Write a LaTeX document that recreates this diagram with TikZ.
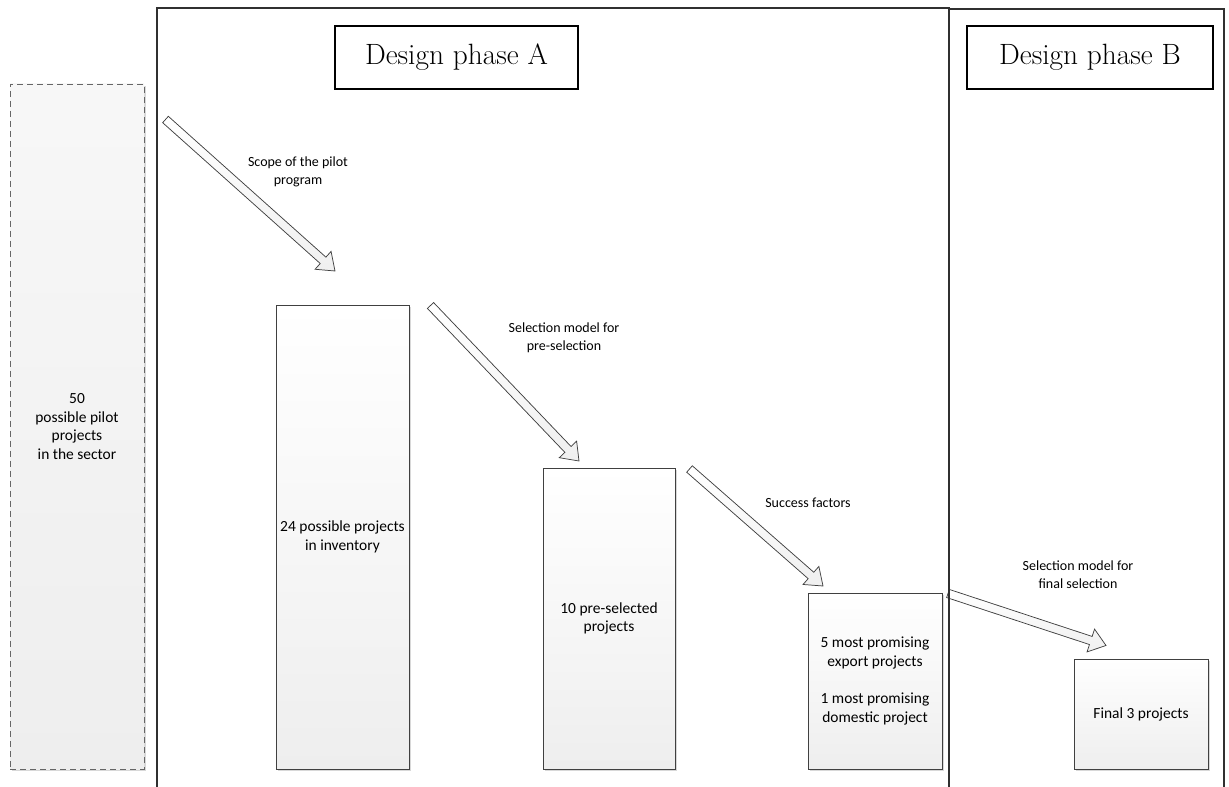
\documentclass[tikz,border=0pt]{standalone}
\usepackage{fontspec}
\newfontfamily\labfont{Carlito}
\usetikzlibrary{calc,shadows}
\newcommand{\blockarr}[2]{%
  \coordinate (#1h) at ($(#2)!12pt!(#1)$);
  \path[arrshadow] ($(#1)!3.2pt!90:(#2)$) -- ($(#1h)!3.2pt!-90:(#1)$) -- ($(#1h)!9pt!-90:(#1)$) -- (#2)
    -- ($(#1h)!9pt!90:(#1)$) -- ($(#1h)!3.2pt!90:(#1)$) -- ($(#1)!3.2pt!-90:(#2)$) -- cycle;
  \path[blockarrow] ($(#1)!3.2pt!90:(#2)$) -- ($(#1h)!3.2pt!-90:(#1)$) -- ($(#1h)!9pt!-90:(#1)$) -- (#2)
    -- ($(#1h)!9pt!90:(#1)$) -- ($(#1h)!3.2pt!90:(#1)$) -- ($(#1)!3.2pt!-90:(#2)$) -- cycle;
}
\definecolor{edge}{HTML}{404040}
\definecolor{framec}{HTML}{303030}
\definecolor{boxbot}{HTML}{EEEEEE}
\begin{document}
\begin{tikzpicture}[x=0.75pt,y=-0.75pt,
  frame/.style={draw=framec,line width=1.5pt},
  box/.style={draw=edge,line width=0.6pt,top color=white,bottom color=boxbot,
    inner sep=0pt,outer sep=0pt,align=center,font=\labfont\fontsize{11.6}{14}\selectfont,
    drop shadow={shadow xshift=1.3pt,shadow yshift=-1.3pt,fill=black!30,opacity=0.5}},
  dbox/.style={box,draw=black!60,dashed,dash pattern=on 4.5pt off 3pt,top color=black!3,bottom color=boxbot},
  title/.style={draw=black,line width=1.1pt,fill=white,inner sep=0pt,outer sep=0pt,
    font=\fontsize{22}{26}\selectfont},
  lab/.style={align=center,inner sep=0pt,font=\labfont\fontsize{10.5}{13.5}\selectfont},
  blockarrow/.style={draw=edge,line width=0.55pt,top color=white,bottom color=black!6,line join=miter},
  arrshadow/.style={fill=black!12,xshift=1.2pt,yshift=-1.2pt}
]
\useasboundingbox (0,0) rectangle (1229,787);
% frames
\draw[frame] (157,790) -- (157,8) -- (949,8) -- (949,790);
\draw[frame] (949,9) -- (1224,9) -- (1224,790);
% titles
\node[title,minimum width=182.25pt,minimum height=47.25pt] (tA) at (456.5,57.5) {Design phase A};
\node[title,minimum width=184.5pt,minimum height=47.25pt] (tB) at (1090,57.5) {Design phase B};
% boxes
\node[dbox,minimum width=100.5pt,minimum height=513.75pt] (d0) at (77,426.5)
  {50\\possible pilot\\projects\\in the sector};
\node[box,minimum width=99.75pt,minimum height=348pt] (b24) at (342.5,537)
  {24 possible projects\\in inventory};
\node[box,minimum width=99pt,minimum height=225.75pt] (b10) at (609,618.5)
  {10 pre-selected\\projects};
\node[box,minimum width=100.5pt,minimum height=132pt] (b5) at (875,681)
  {5 most promising\\export projects\\[14pt]1 most promising\\domestic project};
\node[box,minimum width=100.5pt,minimum height=82.5pt] (bF) at (1141,714)
  {Final 3 projects};
% arrows
\coordinate (a1t) at (165.5,119.5); \coordinate (a1p) at (335,271);
\coordinate (a2t) at (430.5,305.5); \coordinate (a2p) at (579,461);
\coordinate (a3t) at (689.5,469); \coordinate (a3p) at (823,586);
\coordinate (a4t) at (948,593.5); \coordinate (a4p) at (1106,645.5);
\blockarr{a1t}{a1p}
\blockarr{a2t}{a2p}
\blockarr{a3t}{a3p}
\blockarr{a4t}{a4p}
\draw[frame] (949,560) -- (949,620);
% labels
\node[lab] (l1) at (298,172) {Scope of the pilot\\program};
\node[lab] (l2) at (564,338) {Selection model for\\pre-selection};
\node[lab] (l3) at (808,503) {Success factors};
\node[lab] (l4) at (1078,575) {Selection model for\\final selection};
\end{tikzpicture}
\end{document}
